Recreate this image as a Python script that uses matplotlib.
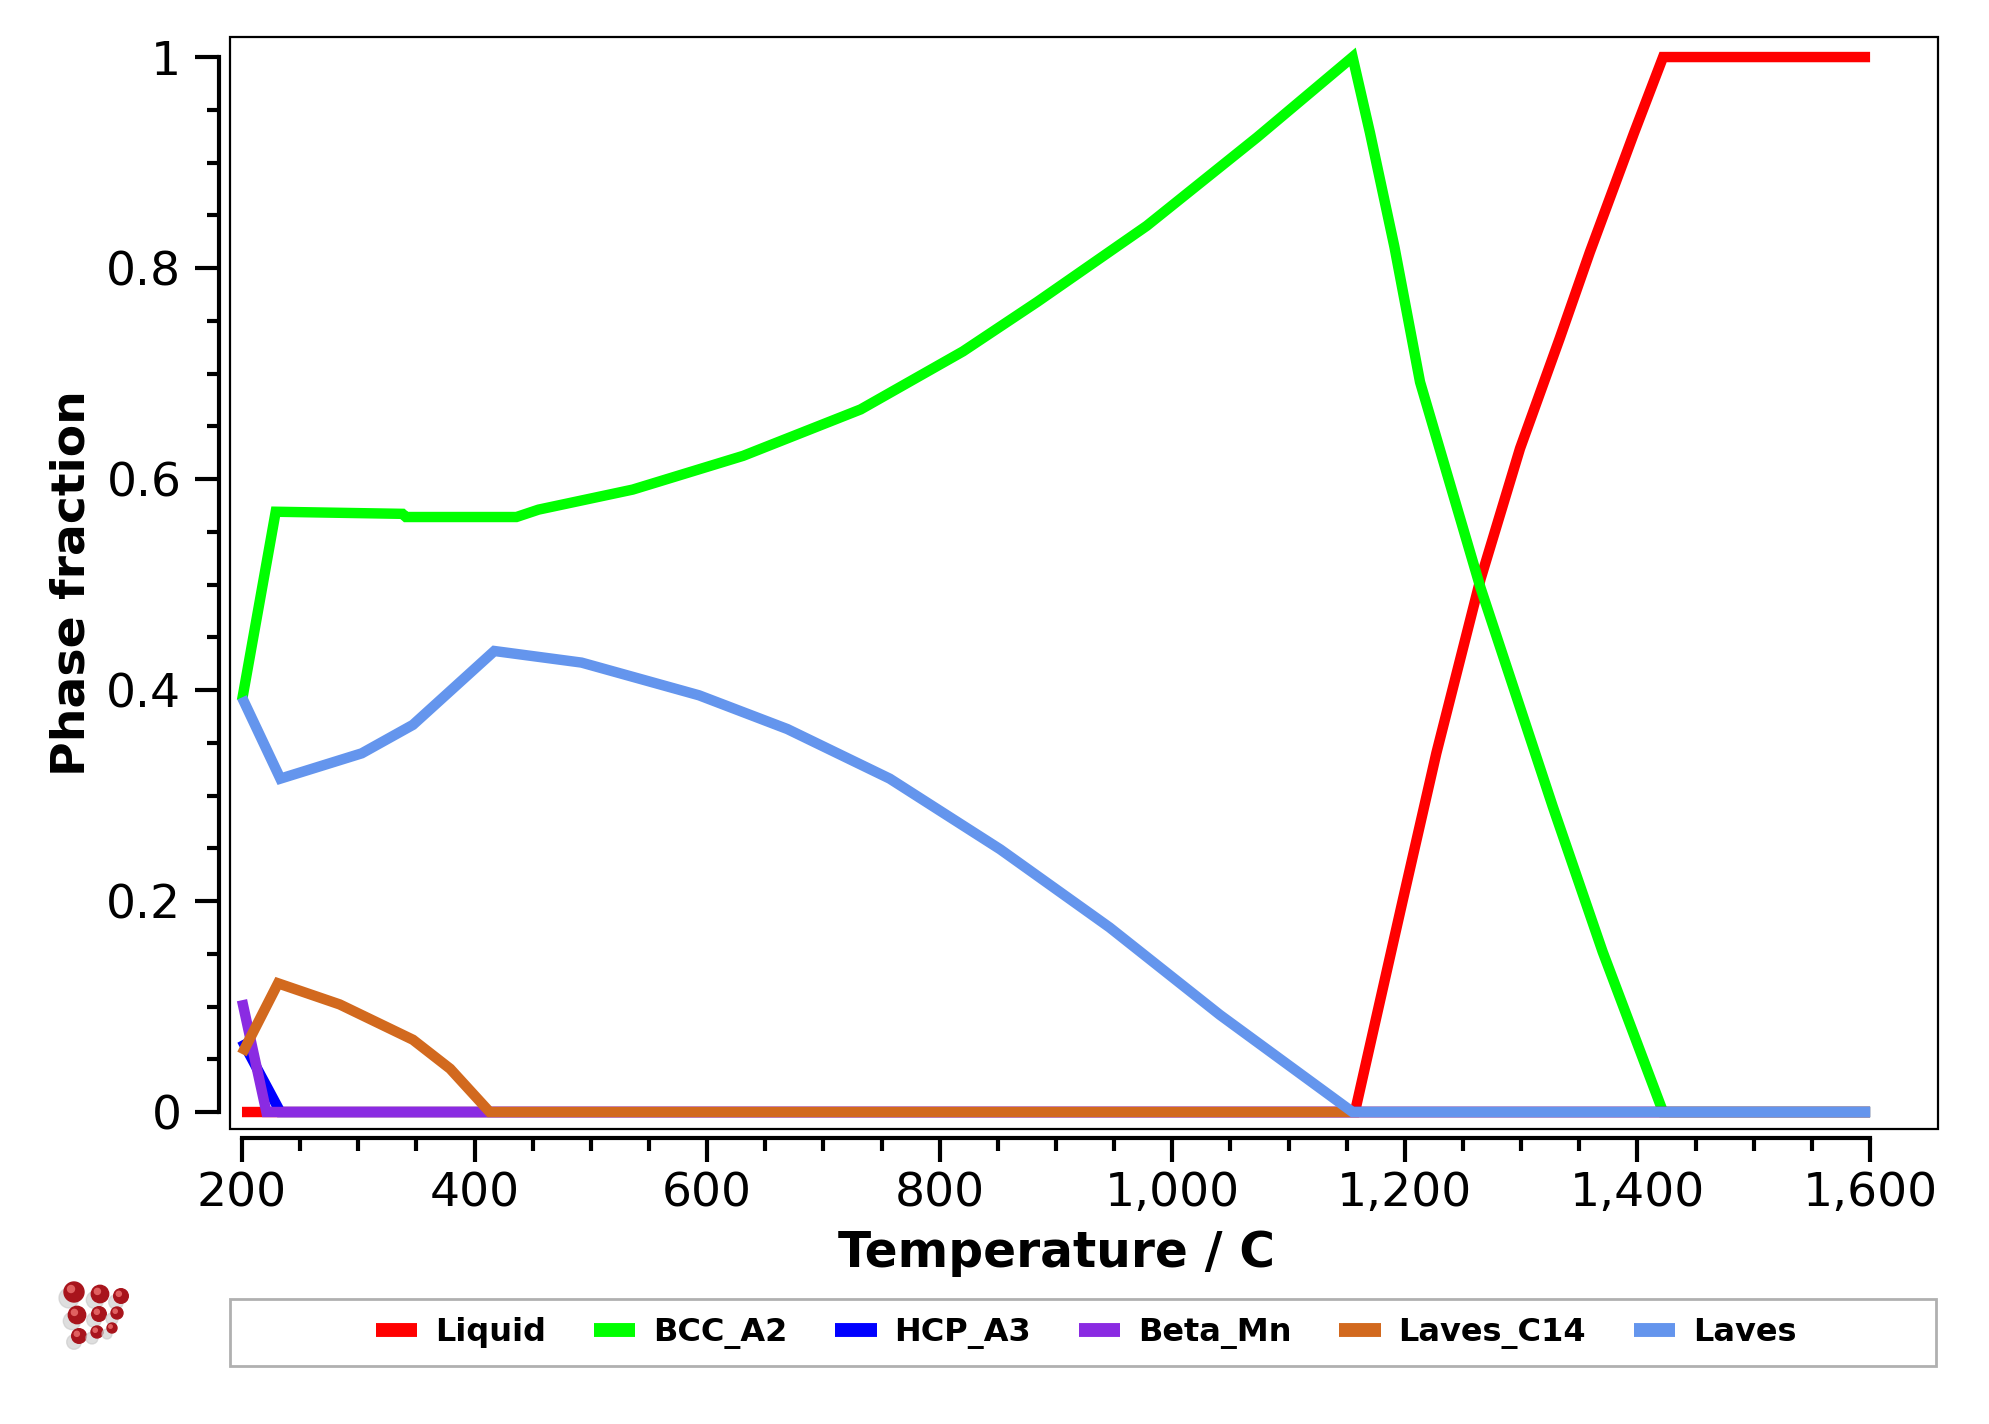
import matplotlib
matplotlib.use("Agg")
import matplotlib.pyplot as plt
import numpy as np
from matplotlib.patches import Rectangle, Circle
from matplotlib.transforms import IdentityTransform
from matplotlib.ticker import FixedLocator

# phase fraction vs temperature
liquid_T = [200, 1157, 1198, 1227, 1265, 1299, 1333, 1359, 1397, 1422, 1600]
liquid_f = [0, 0, 0.20, 0.34, 0.505, 0.629, 0.733, 0.815, 0.928, 1.0, 1.0]

bcc_T = [200, 229, 338, 341, 436, 455, 536, 631, 732, 820, 884, 978, 1073, 1155,
         1170, 1191, 1213, 1265, 1327, 1370, 1422, 1600]
bcc_f = [0.39, 0.569, 0.567, 0.564, 0.564, 0.571, 0.590, 0.622, 0.666, 0.721, 0.768, 0.840, 0.924, 1.0,
         0.928, 0.82, 0.692, 0.497, 0.29, 0.152, 0, 0]

hcp_T = [200, 233, 1600]
hcp_f = [0.068, 0, 0]

beta_T = [200, 221, 1600]
beta_f = [0.106, 0, 0]

c14_T = [200, 231, 284, 347, 379, 413, 1600]
c14_f = [0.055, 0.122, 0.102, 0.0685, 0.041, 0, 0]

laves_T = [200, 233, 303, 347, 417, 492, 593, 669, 757, 852, 946, 1041, 1155, 1600]
laves_f = [0.393, 0.316, 0.340, 0.367, 0.437, 0.426, 0.395, 0.363, 0.316, 0.249, 0.175, 0.092, 0, 0]

series = [
    ("Liquid", liquid_T, liquid_f, "#ff0000"),
    ("BCC_A2", bcc_T, bcc_f, "#00ff00"),
    ("HCP_A3", hcp_T, hcp_f, "#0000ff"),
    ("Beta_Mn", beta_T, beta_f, "#8a2be2"),
    ("Laves_C14", c14_T, c14_f, "#d2691e"),
    ("Laves", laves_T, laves_f, "#6495ed"),
]

x_ticks = [200, 400, 600, 800, 1000, 1200, 1400, 1600]
x_labels = ["200", "400", "600", "800", "1,000", "1,200", "1,400", "1,600"]
y_ticks = [0, 0.2, 0.4, 0.6, 0.8, 1]
y_labels = ["0", "0.2", "0.4", "0.6", "0.8", "1"]

W, H = 1989, 1424
fig = plt.figure(figsize=(W / 100, H / 100), dpi=100)
ax = fig.add_axes([230 / W, 1 - 1129 / H, 1708 / W, 1092 / H])

for name, t, f, col in series:
    ax.plot(t, f, color=col, lw=7.5, label=name, solid_capstyle="butt", solid_joinstyle="miter")

ax.set_xlim(189.7, 1658.4)
ax.set_ylim(-0.0161, 1.019)

# frame around the plotting area
ax.add_patch(Rectangle((0, 0), 1, 1, transform=ax.transAxes, fill=False,
                       edgecolor="black", lw=1.6, clip_on=False, zorder=5))
ax.spines["top"].set_visible(False)
ax.spines["right"].set_visible(False)
ax.spines["left"].set_position(("outward", 8))
ax.spines["bottom"].set_position(("outward", 6.5))
ax.spines["left"].set_bounds(0, 1)
ax.spines["bottom"].set_bounds(200, 1600)
for s in ("left", "bottom"):
    ax.spines[s].set_linewidth(3)

ax.set_xticks(x_ticks)
ax.set_xticklabels(x_labels)
ax.set_yticks(y_ticks)
ax.set_yticklabels(y_labels)
ax.xaxis.set_minor_locator(FixedLocator(np.arange(250, 1600, 50)))
ax.yaxis.set_minor_locator(FixedLocator(np.arange(0.05, 1.0, 0.05)))
ax.tick_params(which="major", length=17, width=3, labelsize=34)
ax.tick_params(which="minor", length=9, width=3)
ax.tick_params(axis="y", pad=10)
ax.tick_params(axis="x", pad=7)

fig.text(1057 / W, 1 - 1253 / H, "Temperature / C", fontsize=35, fontweight="bold",
         ha="center", va="center")
fig.text(72 / W, 1 - 583 / H, "Phase fraction", fontsize=34, fontweight="bold",
         ha="center", va="center", rotation=90)

# legend box below the plot
fig.add_artist(Rectangle((230 / W, 1 - 1366 / H), 1706 / W, 67 / H, transform=fig.transFigure,
                         fill=False, edgecolor="#b0b0b0", lw=2))
handles, labels = ax.get_legend_handles_labels()
leg = fig.legend(handles, labels, loc="center", bbox_to_anchor=(1086 / W, 1 - 1333 / H),
                 ncol=6, frameon=False, prop={"weight": "bold", "size": 23},
                 handlelength=1.3, handletextpad=0.55, columnspacing=1.5)
for h in leg.legend_handles:
    h.set_linewidth(10)

# small logo of red spheres
logo = [(74, 1292, 10), (100, 1294, 8.7), (121, 1296, 7.3),
        (77, 1315, 8.7), (99, 1314, 7.3), (117, 1313, 6),
        (79, 1336, 7.3), (97, 1332, 6), (112, 1328, 5)]
for lx, ly, r in logo:
    fig.add_artist(Circle((lx - 5, H - ly - 6), r, transform=IdentityTransform(),
                          color="#c8c8c8", alpha=0.6))
    fig.add_artist(Circle((lx, H - ly), r, transform=IdentityTransform(), color="#a8141c"))
    fig.add_artist(Circle((lx - r * 0.3, H - ly + r * 0.3), r * 0.35, transform=IdentityTransform(),
                          color="#e06060"))

fig.savefig("out.png", dpi=100)
